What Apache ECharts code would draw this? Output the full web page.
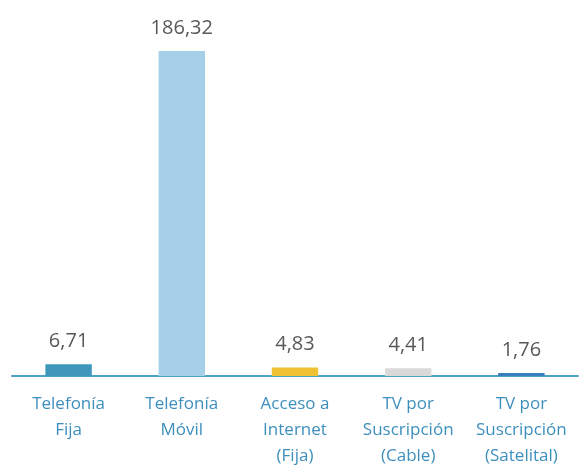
<!DOCTYPE html>
<html>
<head>
<meta charset="utf-8">
<script src="https://cdn.jsdelivr.net/npm/echarts@6/dist/echarts.min.js"></script>
<style>html,body{margin:0;padding:0;background:#fff}#c{width:583px;height:467px}</style>
</head>
<body>
<div id="c"></div>
<script>
var categories = ['Telefonía\nFija', 'Telefonía\nMóvil', 'Acceso a\nInternet\n(Fija)', 'TV por\nSuscripción\n(Cable)', 'TV por\nSuscripción\n(Satelital)'];
var values = [6.71, 186.32, 4.83, 4.41, 1.76];
var colors = ['#3F97BC', '#A6D0E9', '#EEC232', '#D9D9D9', '#3C7DC0'];

var chart = echarts.init(document.getElementById('c'));
chart.setOption({
  animation: false,
  grid: {left: 12, right: 5, top: 51, bottom: 91, outerBoundsMode: 'none', containLabel: false},
  xAxis: {
    type: 'category',
    data: categories,
    axisTick: {show: false},
    axisLine: {lineStyle: {color: '#4FA3C8', width: 2}},
    axisLabel: {color: '#3D8FBD', fontSize: 17, lineHeight: 26, fontFamily: 'Open Sans', margin: 15, interval: 0}
  },
  yAxis: {type: 'value', show: false, min: 0, max: function (v) { return v.max; }, splitLine: {show: false}},
  series: [{
    type: 'bar',
    barWidth: '41%',
    data: values.map(function (v, i) { return {value: v, itemStyle: {color: colors[i]}}; }),
    label: {
      show: true, position: 'top', distance: 13, color: '#595959', fontSize: 20, fontFamily: 'Open Sans',
      formatter: function (p) { return p.value.toFixed(2).replace('.', ','); }
    }
  }]
});
</script>
</body>
</html>
